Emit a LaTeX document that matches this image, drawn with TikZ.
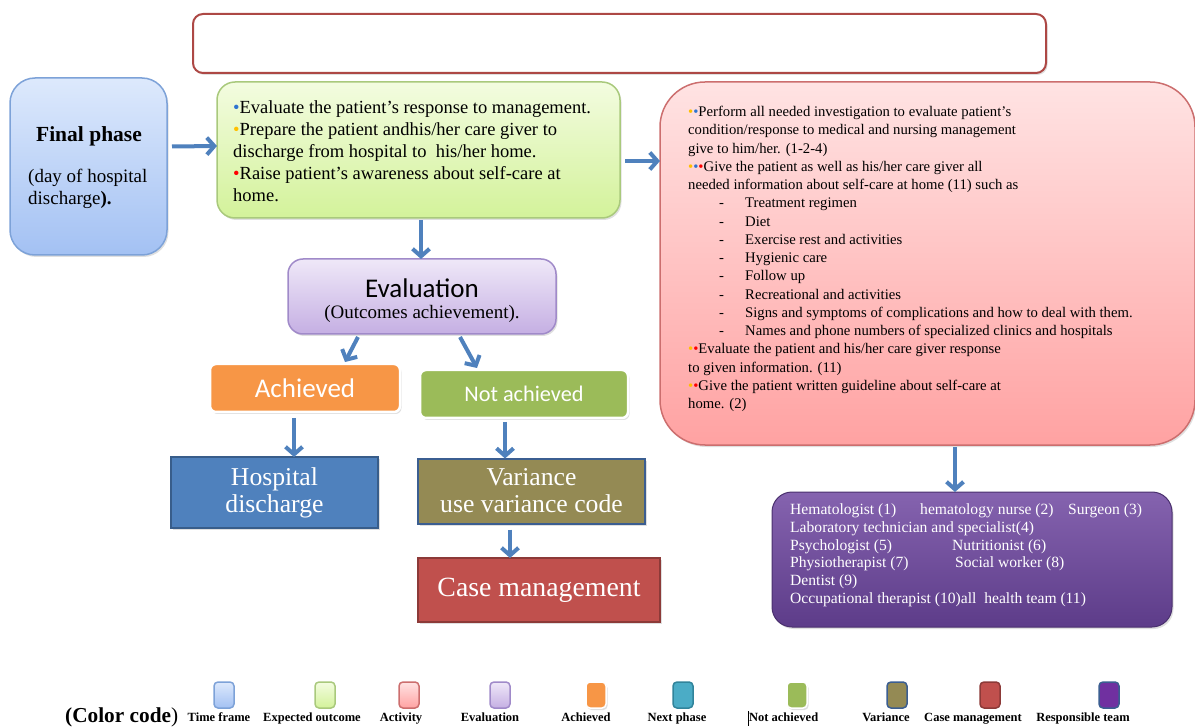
\documentclass[tikz,border=0pt]{standalone}
\usepackage{fontspec}
\setmainfont{Liberation Serif}
\newfontfamily\calibri{Carlito}
\usetikzlibrary{arrows.meta,shadows}

\definecolor{arrowblue}{HTML}{4F81BD}
\definecolor{tfTop}{HTML}{DDE9FC}
\definecolor{tfBot}{HTML}{A3C1F3}
\definecolor{tfBorder}{HTML}{7DA2D8}
\definecolor{eoTop}{HTML}{F3FCE0}
\definecolor{eoBot}{HTML}{D3F29A}
\definecolor{eoBorder}{HTML}{A9C97C}
\definecolor{acTop}{HTML}{FFE3E3}
\definecolor{acBot}{HTML}{FFA2A2}
\definecolor{acBorder}{HTML}{CC6E6E}
\definecolor{evTop}{HTML}{EFE8F8}
\definecolor{evBot}{HTML}{C5AFE3}
\definecolor{evBorder}{HTML}{A08AC9}
\definecolor{achOrange}{HTML}{F79646}
\definecolor{naGreen}{HTML}{9BBB59}
\definecolor{hdBlue}{HTML}{4F81BD}
\definecolor{hdBorder}{HTML}{385D8A}
\definecolor{varOlive}{HTML}{948A54}
\definecolor{varBorder}{HTML}{3B5E91}
\definecolor{cmRed}{HTML}{C0504D}
\definecolor{cmBorder}{HTML}{8C3A38}
\definecolor{rtTop}{HTML}{8563AF}
\definecolor{rtBot}{HTML}{5D3C89}
\definecolor{teal}{HTML}{4BACC6}
\definecolor{tealBorder}{HTML}{31849B}
\definecolor{rtPurple}{HTML}{7030A0}
\definecolor{bulBlue}{HTML}{2E74D0}
\definecolor{bulOrange}{HTML}{FFC000}
\definecolor{bulRed}{HTML}{FF0000}

\newcommand\bb{\textcolor{bulBlue}{•}}
\newcommand\bo{\textcolor{bulOrange}{•}}
\newcommand\br{\textcolor{bulRed}{•}}
\newcommand\dashitem[1]{\makebox[57pt][l]{\hspace*{31pt}-}#1}

\tikzset{
  arr/.style={draw=arrowblue, line width=4pt, -{Straight Barb[length=7.5pt,width=17pt]}},
  panel/.style={inner sep=0pt, outer sep=0pt},
  softshadow/.style={drop shadow={opacity=0.25, shadow xshift=1.5pt, shadow yshift=-2pt}},
  legswatch/.style={panel, minimum width=20pt, minimum height=26pt, rounded corners=4pt, line width=1.5pt},
  leglabel/.style={inner sep=0pt, anchor=base, font=\bfseries\fontsize{12.5}{14}\selectfont},
}

\begin{document}
\begin{tikzpicture}[x=1pt, y=-1pt]
\useasboundingbox (0,0) rectangle (1195,727);

% empty title frame
\node[panel, minimum width=853pt, minimum height=59pt, rounded corners=10pt,
      draw=cmRed!90!black, line width=2pt, fill=white, softshadow] (title) at (619.5,43.5) {};

% time frame
\node[panel, minimum width=157pt, minimum height=177pt, rounded corners=25pt,
      top color=tfTop, bottom color=tfBot, draw=tfBorder, line width=1.5pt, softshadow] (tf) at (88.5,166.5) {};
\node[inner sep=0pt, font=\bfseries\fontsize{21.5}{24}\selectfont] (tfhead) at (89,136) {Final phase};
\node[inner sep=0pt, anchor=north west, align=left, font=\fontsize{19}{22}\selectfont] (tfsub) at (28,169)
  {(day of hospital\\discharge\textbf{).}};

% expected outcome
\node[panel, minimum width=403pt, minimum height=136pt, rounded corners=18pt,
      top color=eoTop, bottom color=eoBot, draw=eoBorder, line width=1.5pt, softshadow] (eo) at (418.5,150) {};
\node[inner sep=0pt, anchor=north west, align=left, font=\fontsize{18.5}{22}\selectfont] (eotext) at (233,100)
  {\bb Evaluate the patient's response to management.\\
   \bo Prepare the patient andhis/her care giver to\\
   discharge from hospital to\ \ his/her home.\\
   \br Raise patient's awareness about self-care at\\
   home.};

% activity
\node[panel, minimum width=535pt, minimum height=363pt, rounded corners=45pt,
      top color=acTop, bottom color=acBot, draw=acBorder, line width=1.5pt, softshadow] (act) at (927.5,263.5) {};
\node[inner sep=0pt, anchor=north west, align=left, font=\fontsize{14.7}{18.25}\selectfont] (acttext) at (688,106)
  {\bo\bb Perform all needed investigation to evaluate patient's\\
   condition/response to medical and nursing management\\
   give to him/her. (1-2-4)\\
   \bo\bb\br Give the patient as well as his/her care giver all\\
   needed information about self-care at home (11) such as\\
   \dashitem{Treatment regimen}\\
   \dashitem{Diet}\\
   \dashitem{Exercise rest and activities}\\
   \dashitem{Hygienic care}\\
   \dashitem{Follow up}\\
   \dashitem{Recreational and activities}\\
   \dashitem{Signs and symptoms of complications and how to deal with them.}\\
   \dashitem{Names and phone numbers of specialized clinics and hospitals}\\
   \bo\br Evaluate the patient and his/her care giver response\\
   to given information. (11)\\
   \bo\br Give the patient written guideline about self-care at\\
   home. (2)};

% responsible team
\node[panel, minimum width=400pt, minimum height=135pt, rounded corners=20pt,
      top color=rtTop, bottom color=rtBot, draw=rtBot!80!black, line width=1pt, softshadow] (team) at (972,559.5) {};
\node[inner sep=0pt, anchor=north west, align=left, text=white, font=\fontsize{15.6}{17.8}\selectfont] (teamtext) at (790,503.5)
  {\makebox[130pt][l]{Hematologist (1)}\makebox[148pt][l]{hematology nurse (2)}Surgeon (3)\\
   Laboratory technician and specialist(4)\\
   \makebox[162pt][l]{Psychologist (5)}Nutritionist (6)\\
   \makebox[165pt][l]{Physiotherapist (7)}Social worker (8)\\
   Dentist (9)\\
   Occupational therapist (10)all\ \ health team (11)};

% evaluation
\node[panel, minimum width=268pt, minimum height=75pt, rounded corners=15pt,
      top color=evTop, bottom color=evBot, draw=evBorder, line width=1.5pt, softshadow] (ev) at (422,296.5) {};
\node[inner sep=0pt, font=\calibri\fontsize{27}{30}\selectfont] (evhead) at (422,288) {Evaluation};
\node[inner sep=0pt, font=\fontsize{19}{22}\selectfont] (evsub) at (422,314) {(Outcomes achievement).};

% achieved / not achieved
\node[panel, minimum width=190pt, minimum height=48pt, rounded corners=6pt, fill=achOrange,
      draw=white, line width=2.5pt, softshadow, text=white, font=\calibri\fontsize{27}{30}\selectfont] (ach) at (305,388) {Achieved};
\node[panel, minimum width=208pt, minimum height=48pt, rounded corners=6pt, fill=naGreen,
      draw=white, line width=2.5pt, softshadow, text=white, font=\calibri\fontsize{22.3}{26}\selectfont] (na) at (524,394) {Not achieved};

% results
\node[panel, minimum width=207pt, minimum height=71pt, fill=hdBlue, draw=hdBorder, line width=2pt,
      softshadow, text=white, align=center, font=\fontsize{25.7}{27}\selectfont] (hd) at (274.5,492.5) {Hospital\\discharge};
\node[panel, minimum width=227pt, minimum height=65pt, fill=varOlive, draw=varBorder, line width=2pt,
      softshadow, text=white, align=center, font=\fontsize{25.7}{27}\selectfont] (var) at (531.5,491) {Variance\\use variance code};
\node[panel, minimum width=242pt, minimum height=64pt, fill=cmRed, draw=cmBorder, line width=2pt,
      softshadow, text=white, font=\fontsize{27.8}{30}\selectfont] (cm) at (539,590) {Case management};

% connectors
\draw[arr] ([xshift=5pt,yshift=20pt]tf.east) -- ([yshift=4pt]eo.west);
\draw[arr] ([xshift=5pt,yshift=-11pt]eo.east) -- ([yshift=102.5pt]act.west);
\draw[arr] ([xshift=2.5pt,yshift=-2pt]eo.south) -- ([xshift=-1pt]ev.north);
\draw[arr] ([xshift=70pt,yshift=-3pt]ev.south west) -- ([xshift=40pt,yshift=2pt]ach.north);
\draw[arr] ([xshift=-96pt,yshift=-3pt]ev.south east) -- ([xshift=-47pt,yshift=2pt]na.north);
\draw[arr] ([xshift=-11pt,yshift=-6pt]ach.south) -- ([xshift=19.5pt]hd.north);
\draw[arr] ([xshift=-19pt,yshift=-4pt]na.south) -- ([xshift=-26.5pt]var.north);
\draw[arr] ([xshift=-21.5pt,yshift=-6pt]var.south) -- ([xshift=-29pt]cm.north);
\draw[arr] ([xshift=27.5pt,yshift=-2pt]act.south) -- ([xshift=-17pt]team.north);

% colour legend
\node[inner sep=0pt, anchor=base west, font=\bfseries\fontsize{21.3}{24}\selectfont] (legtitle) at (65,722)
  {\underline{(Color code}\mdseries)};
\node[legswatch, top color=tfTop, bottom color=tfBot, draw=tfBorder] (s1) at (224,695) {};
\node[legswatch, top color=eoTop, bottom color=eoBot, draw=eoBorder] (s2) at (325,695) {};
\node[legswatch, top color=acTop, bottom color=acBot, draw=acBorder] (s3) at (409,695) {};
\node[legswatch, top color=evTop, bottom color=evBot, draw=evBorder] (s4) at (500,695) {};
\node[legswatch, fill=achOrange, draw=white, softshadow] (s5) at (596,695) {};
\node[legswatch, fill=teal, draw=tealBorder] (s6) at (683,695) {};
\node[legswatch, fill=naGreen, draw=white, softshadow] (s7) at (797,695) {};
\node[legswatch, fill=varOlive, draw=varBorder] (s8) at (897,695) {};
\node[legswatch, fill=cmRed, draw=cmBorder] (s9) at (990,695) {};
\node[legswatch, fill=rtPurple, draw=varBorder] (s10) at (1109,695) {};

\node[leglabel] (l1) at (219,721.5) {Time frame};
\node[leglabel] (l2) at (312,721.5) {Expected outcome};
\node[leglabel] (l3) at (401,721.5) {Activity};
\node[leglabel] (l4) at (490,721.5) {Evaluation};
\node[leglabel] (l5) at (586,721.5) {Achieved};
\node[leglabel] (l6) at (677,721.5) {Next phase};
\node[leglabel] (l7) at (783,721.5) {\vrule width 1.3pt height 11pt depth 4pt Not achieved};
\node[leglabel] (l8) at (886,721.5) {Variance};
\node[leglabel] (l9) at (973,721.5) {Case management};
\node[leglabel] (l10) at (1083,721.5) {Responsible team};
\end{tikzpicture}
\end{document}
